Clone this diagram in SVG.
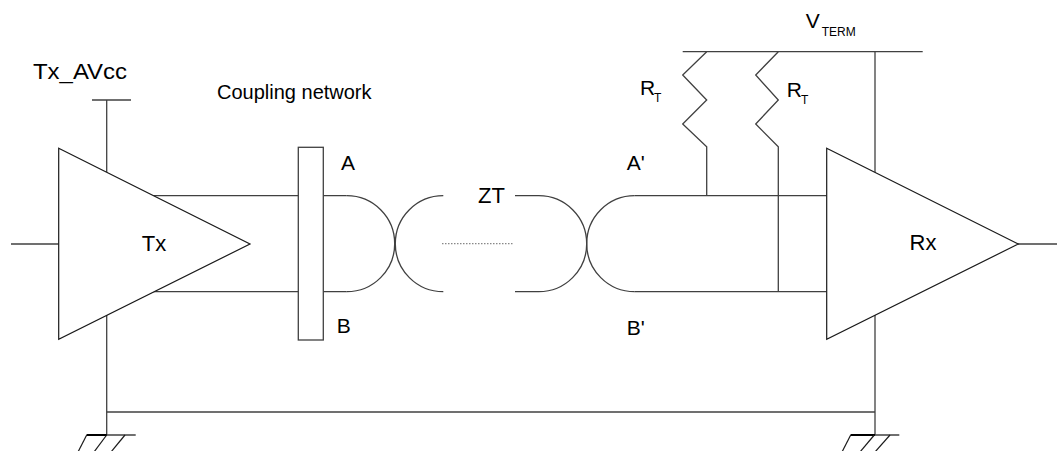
<svg xmlns="http://www.w3.org/2000/svg" width="1057" height="451" viewBox="0 0 1057 451">
<style>
  .w { fill: none; stroke: #404040; stroke-width: 1.3; }
  .amp { fill: #fff; stroke: #1a1a1a; stroke-width: 1.2; }
  .box { fill: #fff; stroke: #404040; stroke-width: 1.3; }
  .dot { fill: none; stroke: #888; stroke-width: 1.2; stroke-dasharray: 1.5 1.5; }
  .gb { fill: none; stroke: #000; stroke-width: 2; }
  .hatch { fill: none; stroke: #1a1a1a; stroke-width: 1.2; }
  text { font-family: "Liberation Sans", Arial, sans-serif; fill: #000; font-size: 21px; }
  .sub { font-size: 12px; }
</style>
<rect width="1057" height="451" fill="#fff"/>
<g id="connectors">
  <line class="w" x1="11" y1="244" x2="59" y2="244"/>
  <line class="w" x1="106.7" y1="100" x2="106.7" y2="172"/>
  <line class="w" x1="106.7" y1="315" x2="106.7" y2="435"/>
  <line class="w" x1="106.7" y1="412" x2="875" y2="412"/>
  <line class="w" x1="153" y1="195.7" x2="346.7" y2="195.7"/>
  <line class="w" x1="153" y1="291.7" x2="346.7" y2="291.7"/>
  <line class="w" x1="634.7" y1="195.7" x2="826.7" y2="195.7"/>
  <line class="w" x1="634.7" y1="291.7" x2="826.7" y2="291.7"/>
  <line class="w" x1="682.7" y1="51.7" x2="922.7" y2="51.7"/>
  <line class="w" x1="875" y1="51.7" x2="875" y2="435"/>
  <line class="w" x1="1018" y1="244" x2="1057" y2="244"/>
</g>
<g id="tx-avcc">
  <line class="w" x1="92" y1="100" x2="131" y2="100"/>
  <text x="33" y="79" style="font-size:22px" textLength="94" lengthAdjust="spacingAndGlyphs">Tx_AVcc</text>
</g>
<g id="tx">
  <path class="amp" d="M58.7,148.3 L250,244 L58.7,339.3 Z"/>
  <text x="154" y="251" text-anchor="middle" style="font-size:22px">Tx</text>
</g>
<g id="coupling">
  <rect class="box" x="298.3" y="147.3" width="25" height="192.7"/>
  <text x="217" y="99" style="font-size:20px">Coupling network</text>
  <text x="341" y="170">A</text>
  <text x="336.7" y="333">B</text>
</g>
<g id="twisted-pair">
  <path class="w" d="M346.7,195.7 A48,48 0 0 1 346.7,291.7"/>
  <path class="w" d="M443.3,195.7 A48,48 0 0 0 443.3,291.7"/>
  <line class="dot" x1="442" y1="243.7" x2="513" y2="243.7"/>
  <path class="w" d="M515,195.7 H538.7 A48,48 0 0 1 538.7,291.7 H515"/>
  <path class="w" d="M634.7,195.7 A48,48 0 0 0 634.7,291.7"/>
  <text x="478" y="203" style="font-size:22px">ZT</text>
  <text x="626.7" y="170">A'</text>
  <text x="626.7" y="335">B'</text>
</g>
<g id="vterm">
  <text x="805.7" y="28.3">V</text>
  <text class="sub" x="821.7" y="35.7">TERM</text>
</g>
<g id="rt1">
  <polyline class="w" points="706.7,51.7 682.7,75 706.7,100 682.7,124 706.7,146.7 706.7,195.7"/>
  <text x="640" y="95">R</text>
  <text class="sub" x="654" y="102">T</text>
</g>
<g id="rt2">
  <polyline class="w" points="778.3,51.7 755.7,75 778.3,100 755.7,124 778.3,146.7 778.3,291.7"/>
  <text x="786.7" y="97">R</text>
  <text class="sub" x="801" y="104">T</text>
</g>
<g id="rx">
  <path class="amp" d="M826.7,148.3 L1018.3,244 L826.7,339.3 Z"/>
  <text x="923" y="250" text-anchor="middle" style="font-size:22px">Rx</text>
</g>
<g id="ground-left">
  <line class="w" x1="86.7" y1="435" x2="135.7" y2="435"/>
  <line class="gb" x1="86.7" y1="435" x2="106.7" y2="435"/>
  <line class="hatch" x1="86.7" y1="435" x2="78" y2="452"/>
  <line class="hatch" x1="106.7" y1="435" x2="94" y2="452"/>
  <line class="hatch" x1="125" y1="435" x2="111" y2="452"/>
</g>
<g id="ground-right">
  <line class="w" x1="850.7" y1="435" x2="899.3" y2="435"/>
  <line class="gb" x1="850.7" y1="435" x2="875" y2="435"/>
  <line class="hatch" x1="850.7" y1="435" x2="842" y2="452"/>
  <line class="hatch" x1="874.3" y1="435" x2="860" y2="452"/>
  <line class="hatch" x1="890" y1="435" x2="875" y2="452"/>
</g>
</svg>
